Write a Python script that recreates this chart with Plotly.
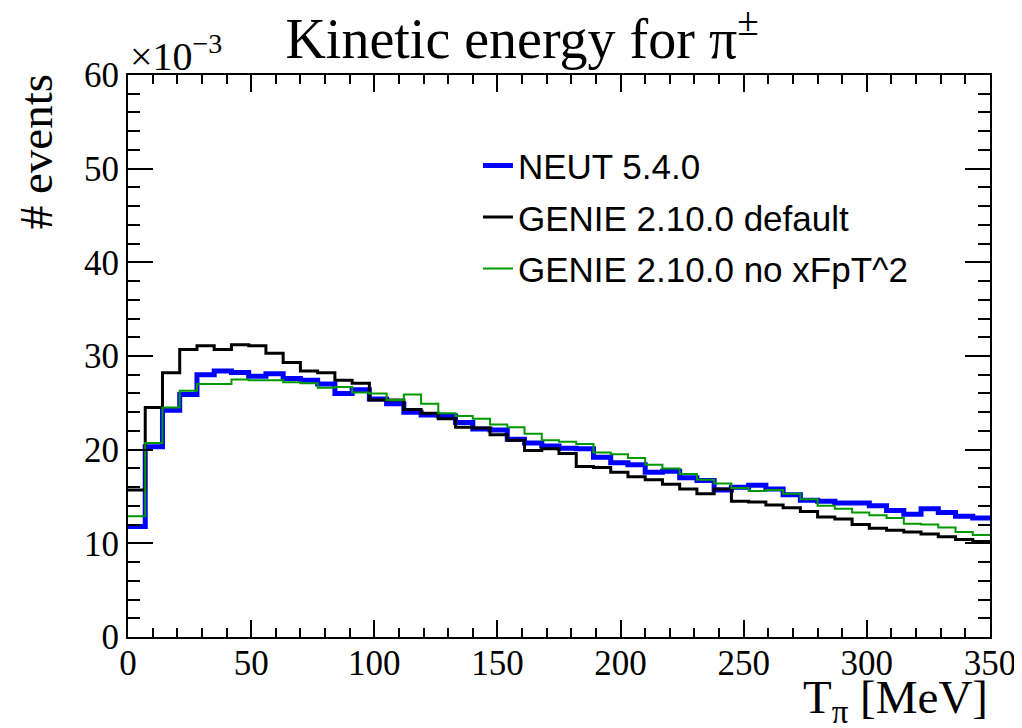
import numpy as np
import plotly.graph_objects as go

# ---------------- data (values in units of 1e-3) ----------------
bin_width_mev = 7
n_bins = 50
neut_540 = [11.8, 20.3, 24.2, 25.9, 28.0, 28.4, 28.25, 27.85, 28.1, 27.6,
            27.4, 27.0, 26.0, 26.4, 25.4, 24.9, 24.0, 23.7, 23.6, 22.9,
            22.2, 22.1, 21.1, 20.7, 20.4, 20.15, 20.1, 19.2, 18.6, 18.4,
            17.6, 17.7, 17.0, 16.7, 15.7, 16.0, 16.2, 15.8, 15.2, 14.6,
            14.5, 14.3, 14.3, 14.0, 13.5, 13.1, 13.7, 13.3, 12.9, 12.7]
genie_default = [15.7, 24.5, 28.2, 30.7, 31.1, 30.7, 31.2, 31.1, 30.3, 29.3,
                 28.4, 28.2, 27.4, 27.1, 25.3, 25.3, 24.3, 23.9, 23.3, 22.4,
                 22.3, 21.6, 21.0, 19.9, 20.1, 19.6, 18.2, 18.1, 17.6, 17.1,
                 16.8, 16.3, 15.8, 15.3, 15.8, 14.5, 14.4, 14.1, 13.8, 13.4,
                 12.8, 12.6, 12.0, 11.6, 11.4, 11.2, 11.0, 10.7, 10.4, 10.2]
genie_no_xfpt2 = [12.9, 20.7, 24.5, 26.3, 27.0, 27.0, 27.5, 27.4, 27.4, 27.2,
                  27.1, 26.6, 26.7, 26.1, 26.0, 25.3, 25.9, 24.9, 23.9, 23.6,
                  23.3, 22.7, 22.4, 21.7, 21.0, 20.85, 20.6, 19.7, 19.5, 19.1,
                  18.4, 18.0, 17.4, 16.8, 16.4, 15.9, 15.6, 15.7, 15.3, 14.7,
                  14.0, 13.7, 13.3, 13.0, 12.7, 12.1, 12.0, 11.7, 11.2, 10.9]
series_names = ["NEUT 5.4.0", "GENIE 2.10.0 default", "GENIE 2.10.0 no xFpT^2"]
x_tick_vals = [0, 50, 100, 150, 200, 250, 300, 350]
y_tick_vals = [0, 10, 20, 30, 40, 50, 60]

edges = np.arange(n_bins + 1) * bin_width_mev

SERIF = "Liberation Serif, Times New Roman, serif"
SANS = "Liberation Sans, Arial, sans-serif"

fig = go.Figure()
styles = [("#0000ff", 5), ("#000000", 3), ("#009900", 2)]
for i, (name, vals, (col, w)) in enumerate(zip(
        series_names, [neut_540, genie_default, genie_no_xfpt2], styles)):
    fig.add_trace(go.Scatter(
        x=edges, y=list(vals) + [vals[-1]], mode="lines",
        line=dict(shape="hv", color=col, width=w), name=name,
        legendgroup=f"g{i}"))

axis_common = dict(
    showgrid=False, zeroline=False, showline=True, linecolor="black",
    linewidth=2, mirror="allticks", ticks="inside", tickcolor="black",
    tickwidth=1.5, automargin=False,
    tickfont=dict(family=SERIF, size=35, color="black"),
)
fig.update_xaxes(range=[0, 350], tickvals=x_tick_vals, ticklen=17,
                 ticklabelstandoff=-6,
                 minor=dict(ticks="inside", dtick=10, ticklen=9,
                            tickcolor="black", tickwidth=1.5),
                 **axis_common)
fig.update_yaxes(range=[0, 60], tickvals=y_tick_vals, ticklen=25,
                 minor=dict(ticks="inside", dtick=2, ticklen=12,
                            tickcolor="black", tickwidth=1.5),
                 **axis_common)

fig.update_layout(
    width=1022, height=728,
    margin=dict(l=120, r=40, t=67, b=99),
    paper_bgcolor="white", plot_bgcolor="white",
    showlegend=True,
    legend=dict(x=0.406, y=0.891, xanchor="left", yanchor="top",
                bgcolor="rgba(0,0,0,0)", borderwidth=0,
                font=dict(family=SANS, size=35, color="black"),
                tracegroupgap=3),
    title=dict(text="Kinetic energy for π<sup>±</sup>", x=0.503, xanchor="center",
               xref="container", y=0.958, yanchor="middle",
               font=dict(family=SERIF, size=56, color="black")),
    annotations=[
        dict(text="T<sub>π</sub> [MeV]", xref="paper", yref="paper",
             x=1.0, y=-0.113, xanchor="right", yanchor="middle",
             showarrow=False, font=dict(family=SERIF, size=47, color="black")),
        dict(text="# events", xref="paper", yref="paper", textangle=-90,
             x=-0.107, y=1.0, xanchor="center", yanchor="top", yshift=3,
             showarrow=False, font=dict(family=SERIF, size=47, color="black")),
        dict(text="×10<sup>−3</sup>", xref="paper", yref="paper",
             x=0.0, y=1.0, xanchor="left", yanchor="bottom", yshift=-6,
             showarrow=False, font=dict(family=SERIF, size=40, color="black")),
    ],
)

fig.write_html("out.html")
